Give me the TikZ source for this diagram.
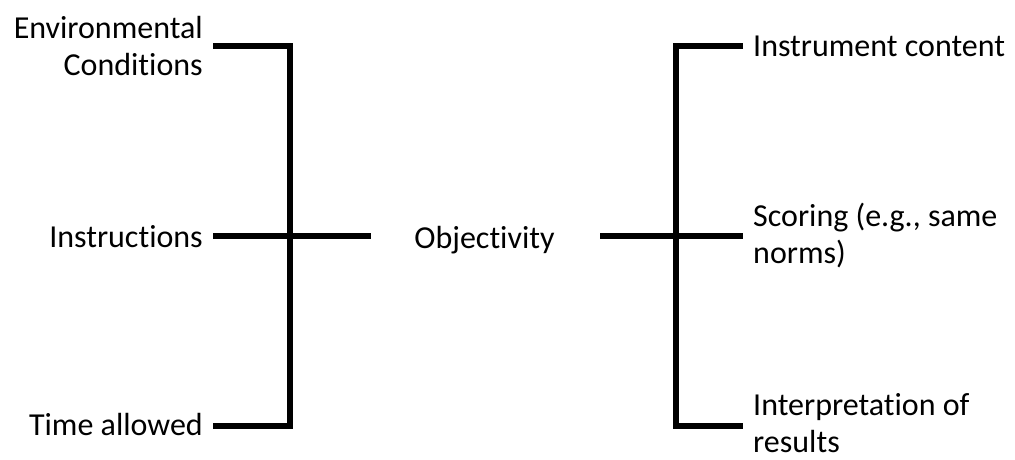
\documentclass[tikz,border=0pt]{standalone}
\usepackage{fontspec}
\setmainfont{Carlito}[Ligatures={NoCommon}]
\begin{document}
\begin{tikzpicture}[x=1pt,y=-1pt,
  lbl/.style={inner sep=0pt, font=\fontsize{32}{37}\selectfont},
  conn/.style={line width=6pt, line join=miter}]
\useasboundingbox (0,0) rectangle (1015,459);
% left labels
\node[lbl, align=right, anchor=base east] (env) at (203,75) {Environmental\\Conditions};
\node[lbl, anchor=base east] (ins) at (203,247) {Instructions};
\node[lbl, anchor=base east] (time) at (203,435) {Time allowed};
% centre
\node[lbl, anchor=base] (obj) at (484.5,248) {Objectivity};
% right labels
\node[lbl, anchor=base west] (cont) at (753,56) {Instrument content};
\node[lbl, align=left, anchor=base west] (scor) at (753,263) {Scoring (e.g., same\\norms)};
\node[lbl, align=left, anchor=base west] (interp) at (753,452) {Interpretation of\\results};
% junction coordinates
\coordinate (lt) at (289.5,46);
\coordinate (lb) at (289.5,426);
\coordinate (envE) at (213,46);
\coordinate (insE) at (213,236);
\coordinate (timeE) at (213,426);
\coordinate (objW) at (371,236);
\coordinate (objE) at (600,236);
\coordinate (rt) at (676,46);
\coordinate (rb) at (676,426);
\coordinate (contW) at (743,46);
\coordinate (scorW) at (743,236);
\coordinate (interpW) at (743,426);
% left bracket
\draw[conn] (envE) -- (lt) -- (lb) -- (timeE);
\draw[conn] (insE) -- (objW);
% right bracket
\draw[conn] (contW) -- (rt) -- (rb) -- (interpW);
\draw[conn] (objE) -- (scorW);
\end{tikzpicture}
\end{document}
